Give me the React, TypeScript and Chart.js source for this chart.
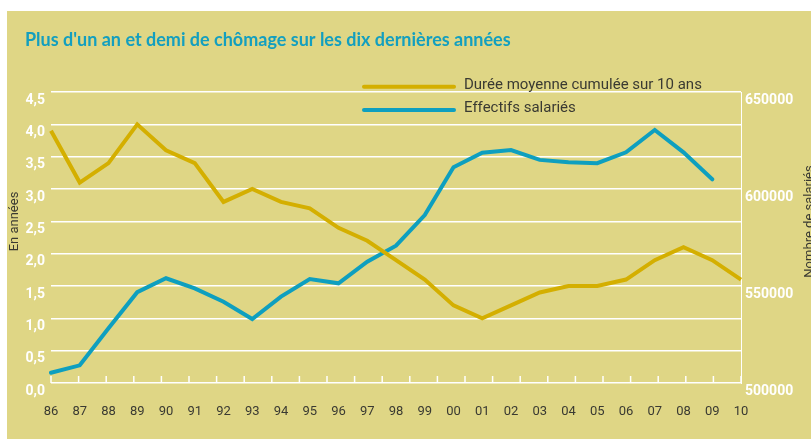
import React, { useEffect, useRef } from 'react';
import { Chart, registerables } from 'chart.js';

Chart.register(...registerables);

// ---- data ----
const years = ['86', '87', '88', '89', '90', '91', '92', '93', '94', '95', '96', '97', '98', '99', '00', '01', '02', '03', '04', '05', '06', '07', '08', '09', '10'];
const dureeMoyenne = [3.9, 3.1, 3.4, 4.0, 3.6, 3.4, 2.8, 3.0, 2.8, 2.7, 2.4, 2.2, 1.9, 1.6, 1.2, 1.0, 1.2, 1.4, 1.5, 1.5, 1.6, 1.9, 2.1, 1.9, 1.6];
const effectifsSalaries = [505300, 509100, 528200, 546800, 554000, 548800, 541900, 533000, 544500, 553600, 551400, 562500, 570800, 586600, 611200, 618700, 620100, 615000, 613800, 613300, 618900, 630400, 618900, 605000, null];
const leftAxis = { min: 0, max: 4.5, step: 0.5 };
const rightAxis = { min: 500000, max: 650000, step: 50000 };
const tickMarkCount = 26;
const titleText = "Plus d'un an et demi de chômage sur les dix dernières années";
const leftTitle = 'En années';
const rightTitle = 'Nombre de salariés';
const seriesLabels = ['Durée moyenne cumulée sur 10 ans', 'Effectifs salariés'];

// ---- styles ----
const BG = '#DFD685';
const YELLOW = '#D4AF00';
const BLUE = '#0E9FBF';
const TITLE_COLOR = '#139FBF';
const TEXT = '#3A3A32';

const decorPlugin = {
  id: 'decor',
  beforeDatasetsDraw(chart: any) {
    const { ctx, chartArea } = chart;
    const xt = chart.scales.xt;
    ctx.save();
    ctx.strokeStyle = '#ffffff';
    ctx.lineWidth = 1.5;
    for (let v = xt.min; v <= xt.max; v += 1) {
      const px = xt.getPixelForValue(v);
      ctx.beginPath();
      ctx.moveTo(px, chartArea.bottom);
      ctx.lineTo(px, chartArea.bottom - 7);
      ctx.stroke();
    }
    ctx.restore();
  },
  afterDraw(chart: any) {
    const { ctx, chartArea } = chart;
    ctx.save();
    // legend
    const lx = chartArea.left + 313;
    const rows = [chartArea.top - 5.3, chartArea.top + 18];
    chart.data.datasets.forEach((ds: any, i: number) => {
      const y = rows[i];
      ctx.strokeStyle = ds.borderColor;
      ctx.lineWidth = 4;
      ctx.lineCap = 'round';
      ctx.beginPath();
      ctx.moveTo(lx, y);
      ctx.lineTo(lx + 90, y);
      ctx.stroke();
      ctx.fillStyle = TEXT;
      ctx.font = '15px Roboto';
      ctx.textAlign = 'left';
      ctx.textBaseline = 'alphabetic';
      ctx.fillText(ds.label, lx + 100, y + 2.3);
    });
    // axis titles
    const cy = (chartArea.top + chartArea.bottom) / 2 - 16;
    ctx.font = '13px Roboto';
    ctx.fillStyle = TEXT;
    ctx.textAlign = 'center';
    ctx.textBaseline = 'middle';
    ctx.save();
    ctx.translate(7.5, cy);
    ctx.rotate(-Math.PI / 2);
    ctx.fillText(leftTitle, 0, 0);
    ctx.restore();
    ctx.save();
    ctx.translate(chart.width - 1.5, cy);
    ctx.rotate(-Math.PI / 2);
    ctx.fillText(rightTitle, 0, 0);
    ctx.restore();
    ctx.restore();
  },
};

export default function App() {
  const ref = useRef<HTMLCanvasElement>(null);

  useEffect(() => {
    if (!ref.current) return;
    Chart.defaults.font.family = 'Roboto';
    const chart = new Chart(ref.current, {
      type: 'line',
      data: {
        labels: years,
        datasets: [
          {
            label: seriesLabels[0],
            data: dureeMoyenne,
            borderColor: YELLOW,
            backgroundColor: YELLOW,
            borderWidth: 4,
            pointRadius: 0,
            tension: 0,
            xAxisID: 'x',
            yAxisID: 'y',
          },
          {
            label: seriesLabels[1],
            data: effectifsSalaries,
            borderColor: BLUE,
            backgroundColor: BLUE,
            borderWidth: 4,
            pointRadius: 0,
            tension: 0,
            borderCapStyle: 'round',
            xAxisID: 'x',
            yAxisID: 'y2',
          },
        ],
      },
      options: {
        responsive: false,
        animation: false,
        layout: { padding: { left: 18, right: 0, top: 0, bottom: 0 } },
        plugins: {
          legend: { display: false },
          tooltip: { enabled: false },
          title: {
            display: true,
            text: titleText,
            align: 'start',
            color: TITLE_COLOR,
            font: { family: 'Lato', size: 18, weight: 'bold' },
            padding: { top: 18.6, bottom: 40.8 },
          },
        },
        scales: {
          x: {
            type: 'category',
            position: 'bottom',
            offset: false,
            afterFit: (s: any) => { s.height = 56; },
            grid: { display: false, drawTicks: false },
            border: { display: false },
            ticks: { autoSkip: false, maxRotation: 0, padding: 21, color: TEXT, font: { size: 13 } },
          },
          xt: {
            type: 'linear',
            axis: 'x',
            position: 'bottom',
            display: false,
            min: 0,
            max: tickMarkCount - 1,
          },
          y: {
            position: 'left',
            min: leftAxis.min,
            max: leftAxis.max,
            afterFit: (s: any) => { s.width = 26; },
            border: { display: false },
            grid: { color: '#ffffff', lineWidth: 1.6, drawTicks: false },
            ticks: {
              stepSize: leftAxis.step,
              padding: 6,
              labelOffset: 8,
              color: '#ffffff',
              font: { size: 14, weight: 'bold' },
              callback: (v: any) => Number(v).toFixed(1).replace('.', ','),
            },
          },
          y2: {
            position: 'right',
            min: rightAxis.min,
            max: rightAxis.max,
            afterFit: (s: any) => { s.width = 70; },
            grid: { display: false, drawTicks: false },
            border: { display: true, color: '#ffffff', width: 1 },
            ticks: {
              stepSize: rightAxis.step,
              padding: 4,
              labelOffset: 8,
              color: '#ffffff',
              font: { size: 14, weight: 'bold' },
              callback: (v: any) => String(v),
            },
          },
        },
      },
      plugins: [decorPlugin],
    } as any);
    return () => chart.destroy();
  }, []);

  return (
    <div style={{ position: 'absolute', left: 0, top: 0, width: 811, height: 439, background: '#ffffff', overflow: 'hidden' }}>
      <div style={{ position: 'absolute', left: 7, top: 11, width: 804, height: 428, background: BG }}>
        <canvas ref={ref} width={804} height={428} style={{ display: 'block', width: 804, height: 428 }} />
      </div>
    </div>
  );
}
